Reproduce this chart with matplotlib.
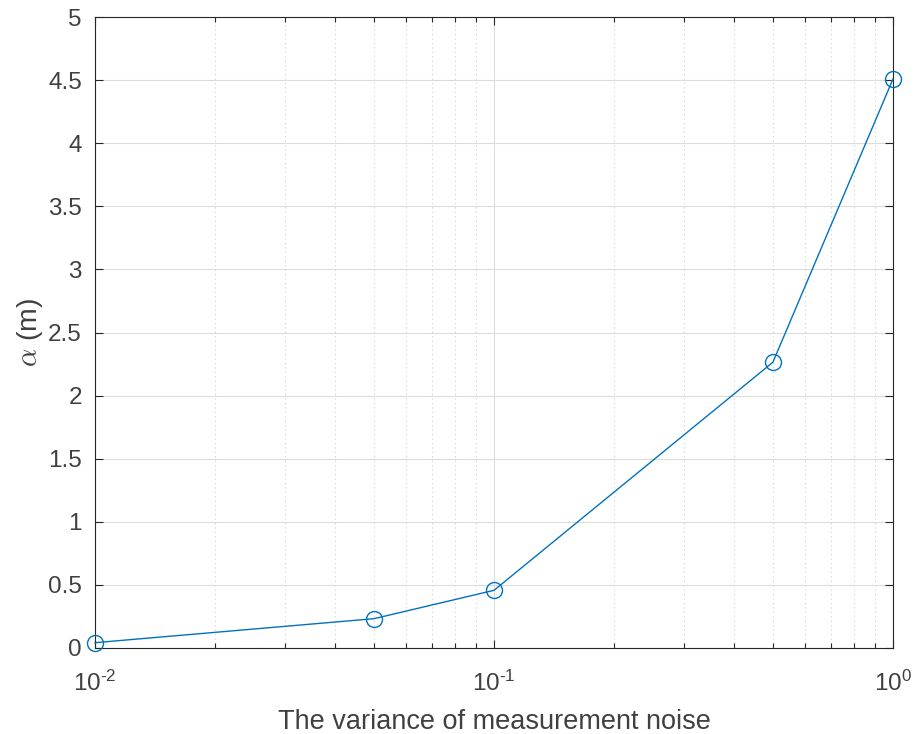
import matplotlib
matplotlib.use("Agg")
import matplotlib.pyplot as plt
from matplotlib.ticker import LogLocator, NullFormatter, MultipleLocator, FuncFormatter, FixedLocator
from matplotlib.lines import Line2D
import math

plt.rcParams['font.family'] = ['Liberation Sans', 'DejaVu Sans']
plt.rcParams['mathtext.fontset'] = 'cm'

noise_var = [0.01, 0.05, 0.1, 0.5, 1.0]
alpha_m = [0.042, 0.232, 0.457, 2.265, 4.51]
x_ticks = [0.01, 0.1, 1.0]

fig = plt.figure(figsize=(9.2, 7.34), dpi=100)
ax = fig.add_axes([0.1033, 0.1172, 0.8674, 0.8596])
c_ax = '#262626'
c_txt = '#404040'

ax.plot(noise_var, alpha_m, '-o', color='#0072BD', lw=1.0, ms=11.5,
        mfc='none', mec='#0072BD', mew=1.0, zorder=3, clip_on=False)
ax.set_xscale('log')
ax.set_xlim(0.01, 1)
ax.set_ylim(0, 5)
ax.yaxis.set_major_locator(MultipleLocator(0.5))
ax.yaxis.set_major_formatter(FuncFormatter(lambda v, p: ('%g' % v)))
ax.xaxis.set_major_locator(FixedLocator(x_ticks))


def xfmt(v, p):
    e = int(round(math.log10(v)))
    s = str(e).replace('-', '\u2010')
    return r'$\mathregular{10^{%s}}$' % s


ax.xaxis.set_major_formatter(FuncFormatter(xfmt))
ax.xaxis.set_minor_locator(LogLocator(base=10, subs=range(2, 10), numticks=20))
ax.xaxis.set_minor_formatter(NullFormatter())

ax.grid(True, which='major', axis='both', color='#dcdcdc', lw=0.8, ls='-')
ax.grid(True, which='minor', axis='x', color='#d0d0d0', lw=0.8, ls=(0, (1, 3)))
ax.set_axisbelow(True)

ax.tick_params(which='both', direction='in', top=True, right=True, colors=c_ax,
               labelsize=17.5, width=0.8)
ax.tick_params(which='major', length=6)
ax.tick_params(which='minor', length=3.5)
ax.tick_params(axis='x', which='major', pad=16.5)
ax.tick_params(axis='y', which='major', pad=9.5)
for s in ax.spines.values():
    s.set_color(c_ax)
    s.set_linewidth(0.8)
for lbl in ax.get_xticklabels() + ax.get_yticklabels():
    lbl.set_color(c_txt)

ax.set_xlabel('The variance of measurement noise', fontsize=19.5, color=c_txt, labelpad=9.5)
ax.set_ylabel(r'$\alpha$ (m)', fontsize=20.5, color=c_txt, labelpad=2)

fig.savefig('out.png', dpi=100)
